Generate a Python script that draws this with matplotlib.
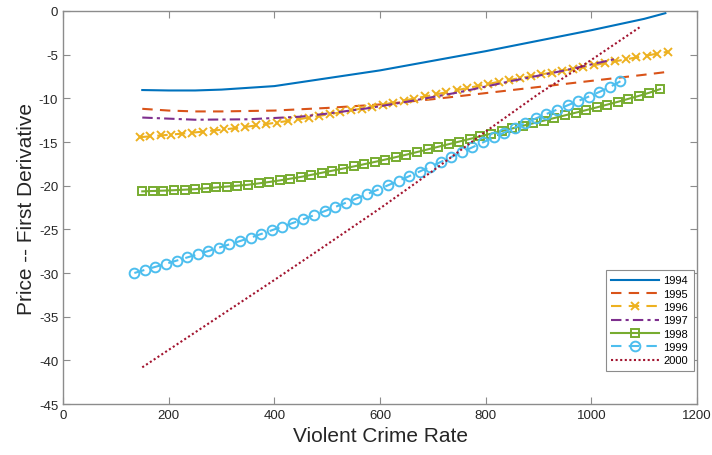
import numpy as np
import matplotlib.pyplot as plt

plt.rcParams['font.family'] = ['Liberation Sans', 'DejaVu Sans']
plt.rcParams['axes.unicode_minus'] = False

# 1994 - solid, no markers
x_1994 = [150, 200, 250, 300, 400, 500, 600, 700, 800, 900, 1000, 1100, 1140]
y_1994 = [-9.05, -9.1, -9.1, -9.0, -8.6, -7.7, -6.8, -5.7, -4.6, -3.4, -2.2, -0.9, -0.25]

# 1995 - dashed
x_1995 = [150, 200, 250, 300, 400, 500, 600, 700, 800, 900, 1000, 1100, 1140]
y_1995 = [-11.2, -11.4, -11.5, -11.5, -11.4, -11.1, -10.7, -10.1, -9.4, -8.7, -8.0, -7.3, -7.0]

# 1996 - dashed with x markers
x_1996 = np.arange(145, 1146, 20)
y_1996 = [-14.45, -14.35, -14.25, -14.15, -14.04, -13.93, -13.81, -13.69, -13.56, -13.42,
          -13.27, -13.11, -12.94, -12.77, -12.59, -12.40, -12.21, -12.01, -11.81, -11.60,
          -11.39, -11.17, -10.95, -10.72, -10.49, -10.26, -10.02, -9.79, -9.55, -9.31,
          -9.07, -8.83, -8.59, -8.35, -8.11, -7.89, -7.68, -7.47, -7.26, -7.05,
          -6.84, -6.63, -6.42, -6.20, -5.98, -5.76, -5.54, -5.32, -5.10, -4.88, -4.66]

# 1997 - dash dot
x_1997 = [150, 250, 350, 450, 500, 575, 650, 750, 850, 950, 1045]
y_1997 = [-12.2, -12.45, -12.4, -12.1, -11.75, -11.15, -10.4, -9.3, -8.0, -6.8, -5.5]

# 1998 - solid with squares
x_1998 = np.arange(150, 1131, 20)
y_1998 = [-20.65, -20.61, -20.57, -20.52, -20.46, -20.40, -20.30, -20.20, -20.10, -20.00,
          -19.90, -19.74, -19.58, -19.40, -19.20, -19.00, -18.76, -18.52, -18.28, -18.04,
          -17.80, -17.54, -17.28, -17.01, -16.73, -16.45, -16.15, -15.85, -15.55, -15.25,
          -14.95, -14.65, -14.35, -14.05, -13.75, -13.45, -13.15, -12.85, -12.55, -12.25,
          -11.95, -11.65, -11.35, -11.04, -10.72, -10.40, -10.06, -9.72, -9.35, -8.95]

# 1999 - dashed with circles
x_1999 = np.arange(135, 1056, 20)
y_1999 = [-30.00, -29.64, -29.29, -28.94, -28.58, -28.22, -27.86, -27.48, -27.10, -26.72,
          -26.34, -25.95, -25.53, -25.11, -24.69, -24.27, -23.84, -23.38, -22.92, -22.44,
          -21.96, -21.48, -20.98, -20.48, -19.96, -19.44, -18.92, -18.38, -17.84, -17.28,
          -16.72, -16.16, -15.60, -15.04, -14.48, -13.92, -13.37, -12.83, -12.30, -11.79,
          -11.29, -10.80, -10.31, -9.80, -9.27, -8.70, -8.05]

# 2000 - dotted
x_2000 = [150, 300, 400, 481, 600, 700, 800, 900, 1000, 1093]
y_2000 = [-40.8, -34.8, -30.8, -27.5, -22.6, -18.3, -13.8, -9.5, -5.6, -1.8]

xticks = [0, 200, 400, 600, 800, 1000, 1200]
yticks = [0, -5, -10, -15, -20, -25, -30, -35, -40, -45]

fig = plt.figure(figsize=(7.12, 4.56), dpi=100)
ax = fig.add_axes([0.0885, 0.1118, 0.8905, 0.8619])

lw = 1.5
ax.plot(x_1994, y_1994, '-', color='#0072BD', lw=lw, label='1994')
ax.plot(x_1995, y_1995, color='#D95319', lw=lw, ls=(0, (5, 3.5)), label='1995')
ax.plot(x_1996, y_1996, color='#EDB120', lw=lw, ls=(0, (5, 3.5)), marker='x',
        markersize=5.5, markeredgewidth=1.4, label='1996')
ax.plot(x_1997, y_1997, color='#7E2F8E', lw=lw, ls=(0, (5, 2, 1.5, 2)), label='1997')
ax.plot(x_1998, y_1998, '-', color='#77AC30', lw=lw, marker='s', markersize=5.5,
        markerfacecolor='none', markeredgewidth=1.4, label='1998')
ax.plot(x_1999, y_1999, color='#4DBEEE', lw=lw, ls=(0, (5, 3.5)), marker='o',
        markersize=7, markerfacecolor='none', markeredgewidth=1.4, label='1999')
ax.plot(x_2000, y_2000, color='#A2142F', lw=lw, ls=(0, (1, 1.2)), label='2000')

ax.set_xlim(0, 1200)
ax.set_ylim(-45, 0)
ax.set_xticks(xticks)
ax.set_yticks(yticks)

for s in ax.spines.values():
    s.set_color('#8c8c8c')
    s.set_linewidth(1.0)
ax.tick_params(direction='in', length=5, width=0.8, color='#8c8c8c',
               labelcolor='#262626', labelsize=9.5, top=True, right=True)

ax.set_xlabel('Violent Crime Rate', fontsize=15, color='#262626')
ax.set_ylabel('Price -- First Derivative', fontsize=15, color='#262626', labelpad=2)

leg = ax.legend(loc='lower right', bbox_to_anchor=(0.995, 0.084), borderaxespad=0,
                fontsize=8, handlelength=4.3, handletextpad=0.4, labelspacing=0.3,
                fancybox=False, framealpha=1, edgecolor='#8c8c8c', numpoints=1,
                borderpad=0.5)
leg.get_frame().set_linewidth(0.8)

fig.savefig('out.png', dpi=100)
